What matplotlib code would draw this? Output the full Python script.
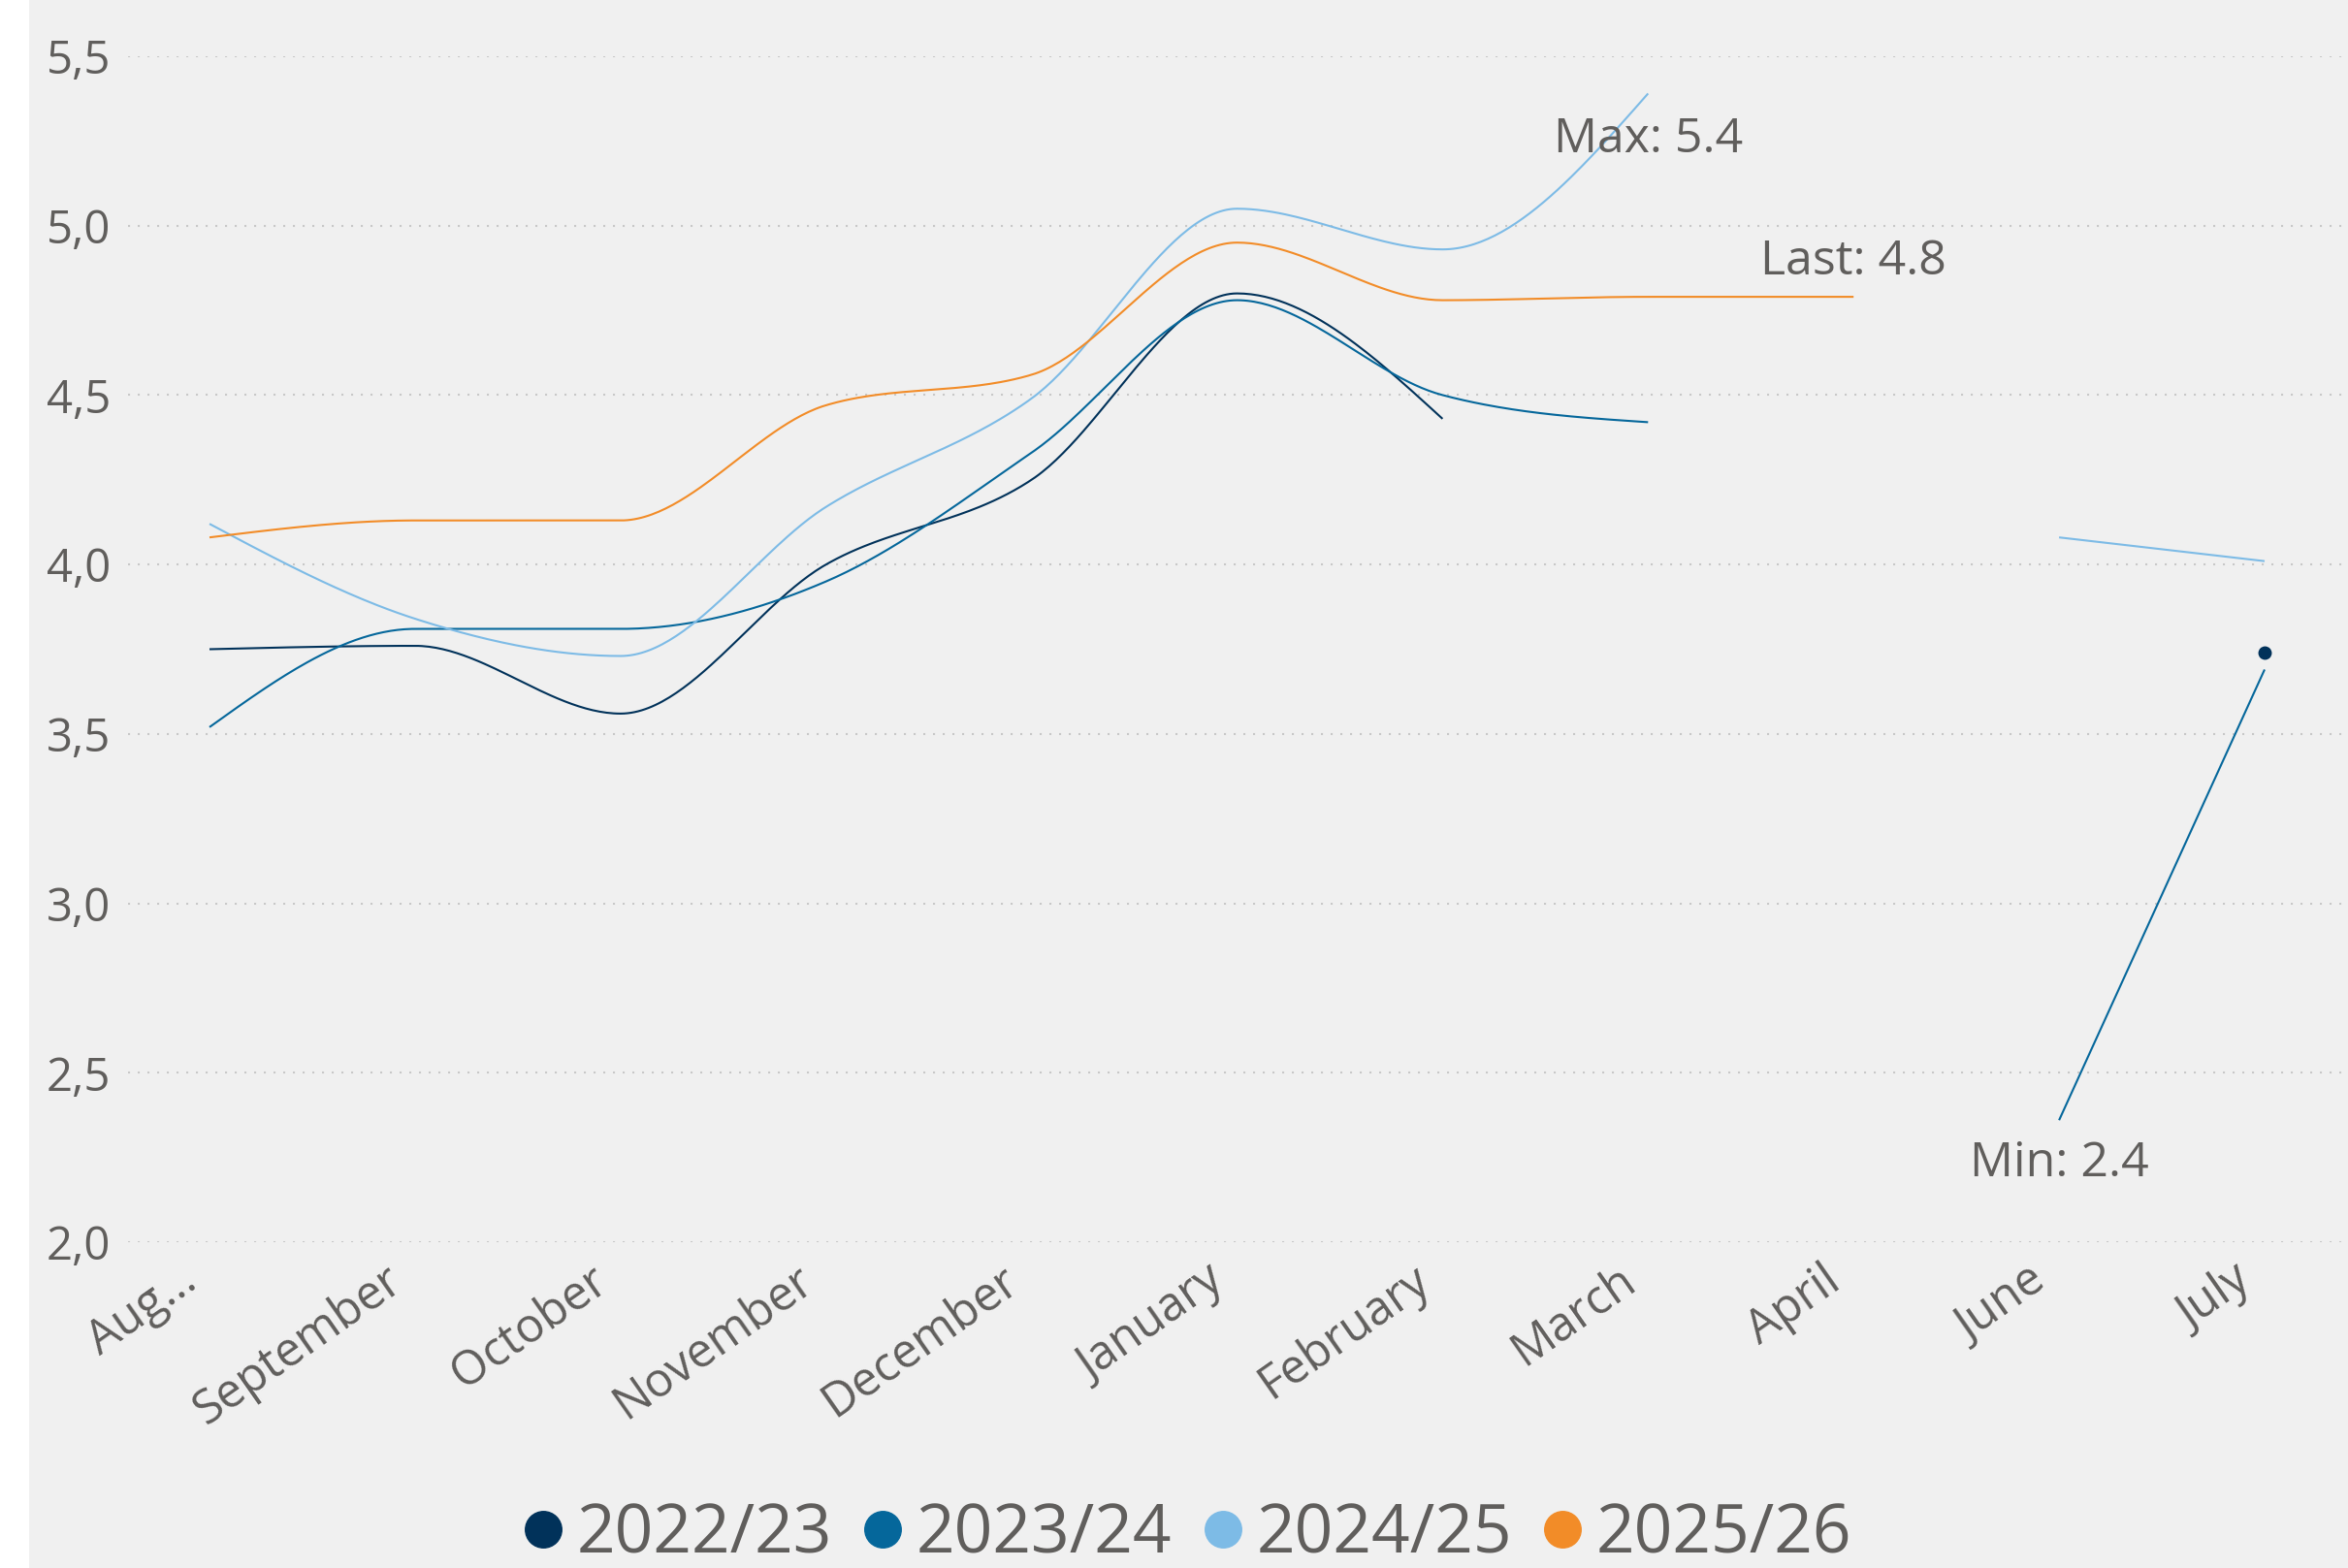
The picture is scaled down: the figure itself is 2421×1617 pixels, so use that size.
import matplotlib
matplotlib.use("Agg")
import matplotlib.pyplot as plt
import matplotlib.transforms as mtransforms
import numpy as np
from matplotlib.lines import Line2D
from matplotlib.patches import Rectangle
from matplotlib.ticker import FuncFormatter

# ---------------------------------------------------------------------------
# Data (None = no value for that month)
# ---------------------------------------------------------------------------

MONTHS = ["Aug...", "September", "October", "November", "December",
          "January", "February", "March", "April", "June", "July"]

S_2022_23 = [3.75, 3.76, 3.56, 4.00, 4.25, 4.80, 4.43, None, None, None, 3.74]
S_2023_24 = [3.52, 3.81, 3.81, 3.95, 4.33, 4.78, 4.50, 4.42, None, 2.36, 3.69]
S_2024_25 = [4.12, 3.84, 3.73, 4.17, 4.49, 5.05, 4.93, 5.39, None, 4.08, 4.01]
S_2025_26 = [4.08, 4.13, 4.13, 4.47, 4.56, 4.95, 4.78, 4.79, 4.79, None, None]

SERIES_NAMES = ["2022/23", "2023/24", "2024/25", "2025/26"]
SERIES = [S_2022_23, S_2023_24, S_2024_25, S_2025_26]
COLORS = ["#01325a", "#05679b", "#7dbbe6", "#f28c28"]

# label text, month index, y position of label centre
ANNOTATIONS = [("Max: 5.4", 7, 5.252), ("Last: 4.8", 8, 4.894), ("Min: 2.4", 9, 2.232)]

TEXT = "#605e5c"
BG = "#f0f0f0"
plt.rcParams["font.family"] = ["Open Sans", "DejaVu Sans"]


def monotone(xs, ys, n=60):
    """Monotone cubic (d3 curveMonotoneX style) through the points."""
    x = np.asarray(xs, float)
    y = np.asarray(ys, float)
    if len(x) == 2:
        return x, y
    h = np.diff(x)
    s = np.diff(y) / h
    t = np.zeros(len(x))
    for i in range(1, len(x) - 1):
        p = (s[i - 1] * h[i] + s[i] * h[i - 1]) / (h[i - 1] + h[i])
        t[i] = (np.sign(s[i - 1]) + np.sign(s[i])) * min(abs(s[i - 1]), abs(s[i]), 0.5 * abs(p))
    t[0] = (3 * s[0] - t[1]) / 2
    t[-1] = (3 * s[-1] - t[-2]) / 2
    out_x, out_y = [], []
    u = np.linspace(0, 1, n)
    for i in range(len(x) - 1):
        h00 = 2 * u**3 - 3 * u**2 + 1
        h10 = u**3 - 2 * u**2 + u
        h01 = -2 * u**3 + 3 * u**2
        h11 = u**3 - u**2
        out_x.append(x[i] + u * h[i])
        out_y.append(h00 * y[i] + h10 * h[i] * t[i] + h01 * y[i + 1] + h11 * h[i] * t[i + 1])
    return np.concatenate(out_x), np.concatenate(out_y)


def runs(values):
    """Split a series into contiguous runs of (index, value)."""
    cur, out = [], []
    for i, v in enumerate(values):
        if v is None:
            if cur:
                out.append(cur)
            cur = []
        else:
            cur.append((i, v))
    if cur:
        out.append(cur)
    return out


W, H = 2421, 1617
fig = plt.figure(figsize=(W / 100, H / 100), dpi=100, facecolor=BG)
fig.patches.append(Rectangle((0, 0), 30 / W, 1, transform=fig.transFigure,
                             facecolor="white", edgecolor="none", zorder=-1))

ax_left, ax_right = 132 / W, 2416 / W
ax_bottom, ax_top = 1 - 1281 / H, 1 - 58 / H
ax = fig.add_axes([ax_left, ax_bottom, ax_right - ax_left, ax_top - ax_bottom])
ax.set_facecolor(BG)

step = (2335 - 216) / 10
ax.set_xlim(-(216 - 132) / step, 10 + (2416 - 2335) / step)
ax.set_ylim(2.0, 5.5)

for name, vals, col in zip(SERIES_NAMES, SERIES, COLORS):
    for run in runs(vals):
        xi = [p[0] for p in run]
        yi = [p[1] for p in run]
        if len(run) == 1:
            ax.plot(xi, yi, "o", color=col, markersize=9, zorder=3, clip_on=False)
        else:
            cx, cy = monotone(xi, yi)
            ax.plot(cx, cy, color=col, lw=1.5, zorder=3, clip_on=False,
                    solid_capstyle="butt")

for label, xi, yi in ANNOTATIONS:
    ax.text(xi, yi, label, ha="center", va="center", fontsize=36, color=TEXT, zorder=4)

# axes styling
for sp in ax.spines.values():
    sp.set_visible(False)
ax.set_yticks(np.arange(2.0, 5.51, 0.5))
ax.yaxis.set_major_formatter(FuncFormatter(lambda v, _: f"{v:.1f}".replace(".", ",")))
ax.grid(axis="y", color="#c8c8c8", lw=1.5, linestyle=(0, (1, 3.8)))
ax.set_axisbelow(True)
ax.tick_params(axis="y", length=0, pad=13, labelsize=34, labelcolor=TEXT)
ax.tick_params(axis="x", length=0, pad=14, labelsize=35, labelcolor=TEXT)
ax.set_xticks(range(len(MONTHS)))
ax.set_xticklabels(MONTHS, rotation=35, ha="right", va="center", rotation_mode="anchor")
shift = mtransforms.ScaledTranslation(-18 / 100, -16 / 100, fig.dpi_scale_trans)
for lbl in ax.get_xticklabels():
    lbl.set_transform(lbl.get_transform() + shift)

handles = [Line2D([], [], marker="o", linestyle="none", color=c, markersize=27)
           for c in COLORS]
fig.legend(handles, SERIES_NAMES, loc="center", bbox_to_anchor=(0.5064, 0.021),
           ncol=4, frameon=False, fontsize=50, labelcolor=TEXT,
           handlelength=0.5, handletextpad=0.25, columnspacing=0.5,
           borderaxespad=0, borderpad=0)

fig.savefig("out.png", dpi=100, facecolor=BG)
